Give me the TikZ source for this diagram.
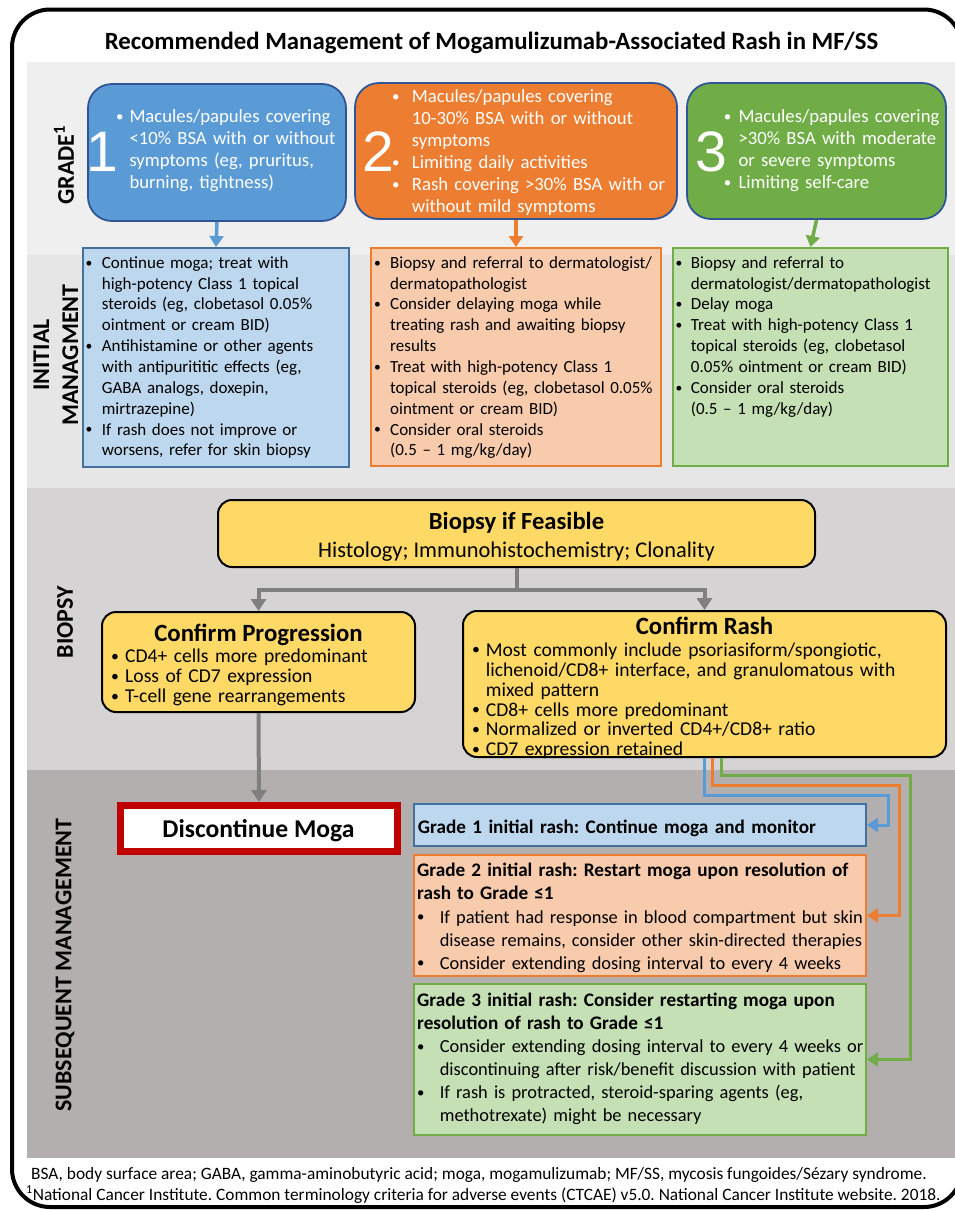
\documentclass[tikz,border=0pt]{standalone}
\usepackage{fontspec}
\setmainfont{Carlito}
\newfontfamily\digitfont{Liberation Sans}
\usepackage{graphicx}
\usepackage{tikz}
\usetikzlibrary{arrows.meta}
\usepackage{xcolor}
\frenchspacing

\definecolor{gradeblue}{HTML}{5B9BD5}
\definecolor{gradeorange}{HTML}{ED7D31}
\definecolor{gradegreen}{HTML}{70AD47}
\definecolor{gradeedge}{HTML}{2F5597}
\definecolor{initblue}{HTML}{BDD7EE}
\definecolor{initblueedge}{HTML}{41719C}
\definecolor{initorange}{HTML}{F8CBAD}
\definecolor{initgreen}{HTML}{C5E0B4}
\definecolor{biopsyyellow}{HTML}{FFD966}
\definecolor{connectgray}{HTML}{7F7F7F}
\definecolor{stopred}{HTML}{C00000}
\definecolor{bandone}{HTML}{EFEFEF}
\definecolor{bandtwo}{HTML}{E6E6E6}
\definecolor{bandthree}{HTML}{D5D3D4}
\definecolor{bandfour}{HTML}{B3AFAF}

\newlength{\bulhang}
\newcommand{\linebrk}{\hfil\break}
\newcommand{\bitem}[1]{\noindent\hangindent=\bulhang\hangafter=1\makebox[\bulhang][l]{\raisebox{0.07em}{\scalebox{0.8}{\textbullet}}}\ignorespaces#1\par}
\newcommand{\subhead}[1]{{\fontsize{19.2}{23}\selectfont\bfseries #1\par}}

\tikzset{
  sectionlabel/.style={rotate=90, align=center, font=\fontsize{24}{29}\selectfont\bfseries},
  gradebox/.style={draw=gradeedge, line width=1.8pt, rounded corners=24pt},
  gradenum/.style={inner sep=0pt, text=white, font=\digitfont\fontsize{57}{57}\selectfont},
  gradetext/.style={anchor=west, inner sep=0pt, text=white, text width=300pt, align=left,
    font=\fontsize{18.7}{22}\selectfont, execute at begin node={\setlength{\bulhang}{#1}}},
  initbox/.style={line width=2pt},
  inittext/.style={anchor=north west, inner sep=0pt, text width=330pt, align=left,
    font=\fontsize{17}{20.85}\selectfont, execute at begin node={\setlength{\bulhang}{#1}}},
  yellowbox/.style={draw=black, line width=2pt, fill=biopsyyellow, rounded corners=14pt},
  yellowtext/.style={anchor=north west, inner sep=0pt, text width=500pt, align=left,
    font=\fontsize{19.6}{19.9}\selectfont, execute at begin node={\setlength{\bulhang}{#1}}},
  headtext/.style={anchor=base, inner sep=0pt, font=\fontsize{24.8}{28}\selectfont\bfseries},
  subbox/.style={line width=2pt},
  subtext/.style={anchor=north west, inner sep=0pt, text width=500pt, align=left,
    font=\fontsize{18.4}{23.1}\selectfont, execute at begin node={\setlength{\bulhang}{22.6pt}}},
  footnote/.style={anchor=base west, inner sep=0pt, font=\fontsize{17.35}{20}\selectfont},
  gradearrow/.style={line width=3.5pt, -{Triangle[width=14pt,length=11pt]}},
  grayarrow/.style={connectgray, line width=4pt, -{Triangle[width=15pt,length=12pt]}},
  rasharrow/.style={line width=3pt, -{Triangle[width=14pt,length=11pt]}}
}

\begin{document}
\begin{tikzpicture}[x=1pt, y=-1pt]
\useasboundingbox (0,0) rectangle (955,1210);
\clip (0,0) rectangle (955,1210);
\fill[white] (0,0) rectangle (955,1210);
% bands
\fill[bandone] (27,62) rectangle (960,255);
\fill[bandtwo] (27,255) rectangle (960,488);
\fill[bandthree] (27,488) rectangle (960,770);
\fill[bandfour] (27,770) rectangle (960,1158);
\draw[line width=4pt, rounded corners=38pt] (12,9.5) rectangle (962,1207);

\node[headtext] (title) at (491.5,49.3) {Recommended Management of Mogamulizumab-Associated Rash in MF/SS};

\node[sectionlabel] (lgrade) at (64,165) {GRADE\textsuperscript{1}};
\node[sectionlabel] (linit) at (56,355) {INITIAL\\MANAGMENT};
\node[sectionlabel] (lbiopsy) at (65,622) {BIOPSY};
\node[sectionlabel] (lsub) at (65,965) {SUBSEQUENT MANAGEMENT};

% grade
\node[gradebox, fill=gradeblue, minimum width=258pt, minimum height=137pt] (g1) at (217,152.5) {};
\node[gradebox, fill=gradeorange, minimum width=322pt, minimum height=136pt] (g2) at (516,151) {};
\node[gradebox, fill=gradegreen, minimum width=259pt, minimum height=136pt] (g3) at (816.5,151) {};
\node[gradenum] (g1n) at (102.5,151.5) {1};
\node[gradenum] (g2n) at (378.5,151.7) {2};
\node[gradenum] (g3n) at (711.7,151.5) {3};
\node[gradetext=13.3pt] (g1t) at (116,150.8) {\bitem{Macules/papules covering\linebrk <10\% BSA with or without\linebrk symptoms (eg, pruritus,\linebrk burning, tightness)}};
\node[gradetext=19.7pt] (g2t) at (392,152.6) {\bitem{Macules/papules covering\linebrk 10-30\% BSA with or without\linebrk symptoms}
\bitem{Limiting daily activities}
\bitem{Rash covering >30\% BSA with or\linebrk without mild symptoms}};
\node[gradetext=14.6pt] (g3t) at (723.7,150.6) {\bitem{Macules/papules covering\linebrk >30\% BSA with moderate\linebrk or severe symptoms}
\bitem{Limiting self-care}};

% initial managment
\node[initbox, draw=initblueedge, fill=initblue, minimum width=266pt, minimum height=219pt] (im1) at (216,357.5) {};
\node[initbox, draw=gradeorange, fill=initorange, minimum width=290pt, minimum height=218pt] (im2) at (516,357) {};
\node[initbox, draw=gradegreen, fill=initgreen, minimum width=275pt, minimum height=218pt] (im3) at (810.5,357) {};
\node[inittext=16.2pt] (im1t) at (85.5,256.2) {\bitem{Continue moga; treat with\linebrk high-potency Class 1 topical\linebrk steroids (eg, clobetasol 0.05\%\linebrk ointment or cream BID)}
\bitem{Antihistamine or other agents\linebrk with antipurititic effects (eg,\linebrk GABA analogs, doxepin,\linebrk mirtrazepine)}
\bitem{If rash does not improve or\linebrk worsens, refer for skin biopsy}};
\node[inittext=16pt] (im2t) at (374,256.2) {\bitem{Biopsy and referral to dermatologist/\linebrk dermatopathologist}
\bitem{Consider delaying moga while\linebrk treating rash and awaiting biopsy\linebrk results}
\bitem{Treat with high-potency Class 1\linebrk topical steroids (eg, clobetasol 0.05\%\linebrk ointment or cream BID)}
\bitem{Consider oral steroids\linebrk (0.5 – 1 mg/kg/day)}};
\node[inittext=15.2pt] (im3t) at (675.5,256.2) {\bitem{Biopsy and referral to\linebrk dermatologist/dermatopathologist}
\bitem{Delay moga}
\bitem{Treat with high-potency Class 1\linebrk topical steroids (eg, clobetasol\linebrk 0.05\% ointment or cream BID)}
\bitem{Consider oral steroids\linebrk (0.5 – 1 mg/kg/day)}};
\draw[gradearrow, gradeblue] (g1.south) -- (im1.north);
\draw[gradearrow, gradeorange] (g2.south) -- (im2.north);
\draw[gradearrow, gradegreen] (g3.south) -- (im3.north);

% biopsy
\node[yellowbox, minimum width=597pt, minimum height=67pt] (bio) at (516.5,533.5) {};
\node[headtext, font=\fontsize{24.6}{28}\selectfont\bfseries] (biot) at (516.5,529) {Biopsy if Feasible};
\node[headtext, font=\fontsize{22.4}{26}\selectfont] (bios) at (516.5,557) {Histology; Immunohistochemistry; Clonality};
\node[yellowbox, minimum width=313pt, minimum height=100pt] (cp) at (258.5,662) {};
\node[headtext] (cpt) at (258.5,641.7) {Confirm Progression};
\node[yellowtext=14pt] (cpb) at (111,649) {\bitem{CD4+ cells more predominant}
\bitem{Loss of CD7 expression}
\bitem{T-cell gene rearrangements}};
\node[yellowbox, minimum width=483pt, minimum height=146pt] (cr) at (704.5,684) {};
\node[headtext] (crt) at (704.5,634) {Confirm Rash};
\node[yellowtext=13.7pt] (crb) at (472,642.5) {\bitem{Most commonly include psoriasiform/spongiotic,\linebrk lichenoid/CD8+ interface, and granulomatous with\linebrk mixed pattern}
\bitem{CD8+ cells more predominant}
\bitem{Normalized or inverted CD4+/CD8+ ratio}
\bitem{CD7 expression retained}};
\coordinate (split) at (516.5,590);
\draw[connectgray, line width=4pt] (bio.south) -- (split);
\draw[grayarrow] (split) -| (cp.north);
\draw[grayarrow] (split) -| (cr.north);

% subsequent management
\node[draw=stopred, line width=7pt, fill=white, minimum width=277pt, minimum height=46pt] (dm) at (259,828.5) {};
\node[headtext, font=\fontsize{25.6}{28}\selectfont\bfseries] (dmt) at (258.5,837.5) {Discontinue Moga};
\draw[grayarrow] (cp.south) -- (dm.north);
\node[subbox, draw=initblueedge, fill=initblue, minimum width=452pt, minimum height=42pt] (sm1) at (640,825) {};
\node[subbox, draw=gradeorange, fill=initorange, minimum width=452pt, minimum height=121pt] (sm2) at (640,915.5) {};
\node[subbox, draw=gradegreen, fill=initgreen, minimum width=452pt, minimum height=151pt] (sm3) at (640,1059.5) {};
\node[subtext, anchor=base west, font=\fontsize{19.2}{23}\selectfont\bfseries] (sm1t) at (417.7,833) {Grade 1 initial rash: Continue moga and monitor};
\node[subtext] (sm2t) at (417,863.2) {\subhead{Grade 2 initial rash: Restart moga upon resolution of\linebrk rash to Grade ≤1}
\bitem{If patient had response in blood compartment but skin\linebrk disease remains, consider other skin-directed therapies}
\bitem{Consider extending dosing interval to every 4 weeks}};
\node[subtext] (sm3t) at (417,992.5) {\subhead{Grade 3 initial rash: Consider restarting moga upon\linebrk resolution of rash to Grade ≤1}
\bitem{Consider extending dosing interval to every 4 weeks or\linebrk discontinuing after risk/benefit discussion with patient}
\bitem{If rash is protracted, steroid-sparing agents (eg,\linebrk methotrexate) might be necessary}};
\coordinate (blueturn) at (888,795);
\coordinate (orangeturn) at (899,785);
\coordinate (greenturn) at (910,775);
\draw[rasharrow, gradeblue] (cr.south) |- (blueturn) |- (sm1.east);
\draw[rasharrow, gradeorange] ([xshift=7.5pt]cr.south) |- (orangeturn) |- (sm2.east);
\draw[rasharrow, gradegreen] ([xshift=17pt]cr.south) |- (greenturn) |- (sm3.east);

% footer
\node[footnote] (foot1) at (31,1179) {BSA, body surface area; GABA, gamma-aminobutyric acid; moga, mogamulizumab; MF/SS, mycosis fungoides/Sézary syndrome.};
\node[footnote] (foot2) at (26,1200) {\textsuperscript{1}National Cancer Institute. Common terminology criteria for adverse events (CTCAE) v5.0. National Cancer Institute website. 2018.};
\end{tikzpicture}
\end{document}
